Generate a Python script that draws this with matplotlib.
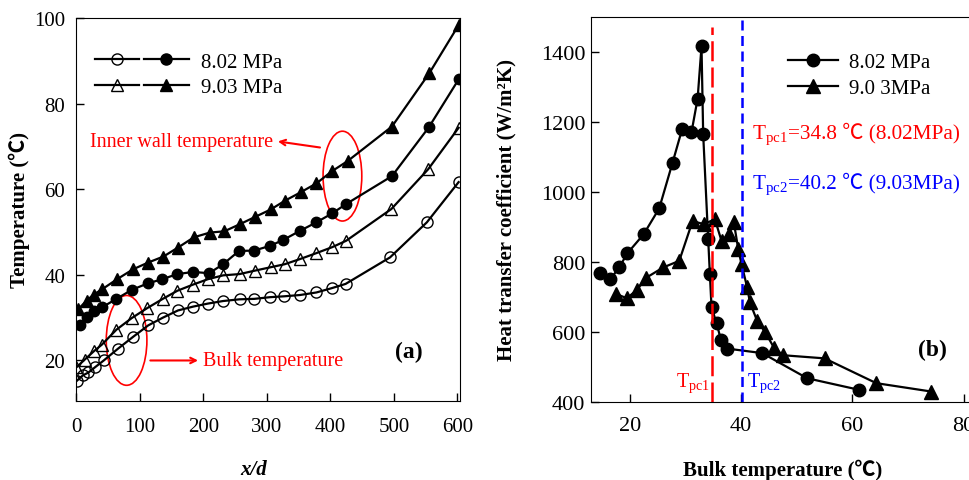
import matplotlib
matplotlib.use("Agg")
import matplotlib.pyplot as plt
from matplotlib.patches import Ellipse
from matplotlib.lines import Line2D
from matplotlib.legend_handler import HandlerTuple

plt.rcParams["font.family"] = ["Liberation Serif", "Noto Sans CJK SC", "DejaVu Sans"]
plt.rcParams["mathtext.fontset"] = "custom"
plt.rcParams["mathtext.rm"] = "Liberation Serif"
plt.rcParams["mathtext.it"] = "Liberation Serif:italic"
plt.rcParams["mathtext.bf"] = "Liberation Serif:bold"

# ---- (a) temperature along the tube, x/d ----
xd_bulk_802 = [1, 10, 19, 30, 43, 65, 89, 113, 136, 160, 184, 207, 231, 257, 280,
               305, 327, 352, 378, 402, 424, 494, 552, 602]
t_bulk_802 = [15.3, 16.5, 17.2, 18.5, 20.0, 22.7, 25.5, 28.2, 30.0, 31.7, 32.6, 33.3,
              33.9, 34.3, 34.4, 34.8, 35.0, 35.3, 35.9, 36.9, 37.9, 44.1, 52.3, 61.7]

xd_wall_802 = [5, 16, 28, 40, 63, 87, 112, 135, 159, 184, 209, 231, 256, 280, 305,
               326, 352, 378, 403, 424, 497, 555, 602]
t_wall_802 = [28.3, 30.1, 31.5, 32.4, 34.4, 36.5, 38.0, 39.0, 40.2, 40.7, 40.4, 42.5,
              45.6, 45.7, 46.8, 48.2, 50.3, 52.3, 54.4, 56.5, 63.1, 74.5, 85.7]

xd_bulk_903 = [0, 13, 27, 40, 63, 87, 111, 136, 159, 183, 207, 231, 257, 281, 306,
               328, 352, 378, 403, 425, 496, 554, 602]
t_bulk_903 = [18.4, 20.2, 22.1, 23.7, 27.2, 29.9, 32.2, 34.4, 36.3, 37.7, 39.0, 39.9,
              40.2, 41.0, 41.8, 42.5, 43.7, 45.1, 46.5, 48.0, 55.4, 64.7, 74.4]

xd_wall_903 = [3, 16, 27, 40, 64, 89, 113, 137, 160, 185, 210, 233, 258, 282, 306,
               329, 353, 378, 403, 427, 497, 556, 602]
t_wall_903 = [32.0, 34.0, 35.4, 36.6, 39.0, 41.3, 42.9, 44.3, 46.4, 48.8, 49.9, 50.2,
              51.9, 53.6, 55.3, 57.4, 59.3, 61.4, 64.3, 66.6, 74.7, 87.2, 98.4]

# ---- (b) heat transfer coefficient vs bulk temperature ----
tb_802 = [14.6, 16.5, 18.1, 19.6, 22.5, 25.3, 27.7, 29.4, 31.1, 32.2, 32.9, 33.2,
          34.1, 34.4, 34.7, 35.6, 36.4, 37.5, 43.8, 51.9, 61.2]
h_802 = [768, 750, 784, 825, 879, 953, 1084, 1179, 1171, 1267, 1417, 1165,
         865, 765, 670, 625, 576, 552, 539, 467, 434]

tb_903 = [17.6, 19.5, 21.3, 23.0, 26.0, 28.9, 31.3, 33.3, 35.3, 36.5, 37.8, 38.7,
          39.5, 40.1, 41.1, 41.6, 42.9, 44.3, 45.9, 47.5, 55.0, 64.3, 74.2]
h_903 = [708, 696, 720, 755, 784, 803, 917, 908, 922, 860, 879, 914,
         836, 793, 727, 684, 631, 600, 555, 533, 524, 453, 429]

t_pc1 = 34.8
t_pc2 = 40.2

fig = plt.figure(figsize=(9.7, 4.81), dpi=100)
ax1 = fig.add_axes([0.0788, 0.1649, 0.3953, 0.7950])
ax2 = fig.add_axes([0.609, 0.1628, 0.396, 0.7992])

lw = 1.6
common = dict(color="black", lw=lw, mec="black", mew=1.0)

ax1.plot(xd_bulk_802, t_bulk_802, marker="o", ms=8, mfc="none", **common)
ax1.plot(xd_bulk_903, t_bulk_903, marker="^", ms=8.5, mfc="none", **common)
ax1.plot(xd_wall_802, t_wall_802, marker="o", ms=7.5, mfc="black", **common)
ax1.plot(xd_wall_903, t_wall_903, marker="^", ms=8.5, mfc="black", **common)

ax1.set_xlim(0, 604)
ax1.set_ylim(10.6, 100)
ax1.set_xticks(range(0, 601, 100))
ax1.set_yticks(range(20, 101, 20))
ax1.tick_params(direction="in", length=6, width=1, labelsize=15)
ax1.tick_params(axis="x", pad=12)
ax1.tick_params(axis="y", pad=8)

ax1.set_xlabel("x/d", fontsize=15, fontweight="bold", style="italic")
ax1.xaxis.set_label_coords(0.462, -0.152)
ax1.set_ylabel("Temperature (℃)", fontsize=15, fontweight="bold")
ax1.yaxis.set_label_coords(-0.122, 0.5)

h_o = Line2D([], [], marker="o", ms=8, mfc="none", **common)
h_fo = Line2D([], [], marker="o", ms=8, mfc="black", **common)
h_t = Line2D([], [], marker="^", ms=8.5, mfc="none", **common)
h_ft = Line2D([], [], marker="^", ms=8.5, mfc="black", **common)
ax1.legend([(h_o, h_fo), (h_t, h_ft)], ["8.02 MPa", "9.03 MPa"],
           handler_map={tuple: HandlerTuple(ndivide=None, pad=0.25)},
           handlelength=4.5, handletextpad=0.6, labelspacing=0.3,
           frameon=False, fontsize=15, loc="upper left",
           bbox_to_anchor=(0.048, 0.912), borderpad=0, borderaxespad=0)

ax1.add_patch(Ellipse((419, 63.1), 61, 21, fill=False, ec="red", lw=1.2))
ax1.add_patch(Ellipse((79, 24.7), 64, 21, fill=False, ec="red", lw=1.2))
ax1.annotate("", xy=(313, 71.3), xytext=(388, 69.7),
             arrowprops=dict(arrowstyle="->", color="red", lw=1.5))
ax1.text(310, 71.2, "Inner wall temperature", color="red", fontsize=14.5,
         ha="right", va="center")
ax1.annotate("", xy=(196, 20), xytext=(112, 20),
             arrowprops=dict(arrowstyle="->", color="red", lw=1.5))
ax1.text(200, 20, "Bulk temperature", color="red", fontsize=14.5,
         ha="left", va="center")
ax1.text(524, 22, "(a)", fontsize=17, fontweight="bold", ha="center", va="center")

# ---- panel (b) ----
ax2.plot(tb_802, h_802, marker="o", ms=9, mfc="black", **common)
ax2.plot(tb_903, h_903, marker="^", ms=9.5, mfc="black", **common)
ax2.axvline(t_pc1, ymax=0.975, color="red", lw=1.8, dashes=(8, 2.5))
ax2.axvline(t_pc2, color="blue", lw=1.8, dashes=(4, 2.2))

ax2.set_xlim(13, 82)
ax2.set_ylim(400, 1500)
ax2.set_xticks([20, 40, 60, 80])
ax2.set_yticks(range(400, 1401, 200))
ax2.tick_params(direction="in", length=6, width=1, labelsize=16)
ax2.tick_params(axis="x", pad=10)
ax2.tick_params(axis="y", pad=4)

ax2.set_xlabel("Bulk temperature (℃)", fontsize=15, fontweight="bold")
ax2.xaxis.set_label_coords(0.4995, -0.149)
ax2.set_ylabel("Heat transfer coefficient (W/m²K)", fontsize=15, fontweight="bold")
ax2.yaxis.set_label_coords(-0.192, 0.5)

ax2.legend([Line2D([], [], marker="o", ms=9, mfc="black", **common),
            Line2D([], [], marker="^", ms=9.5, mfc="black", **common)],
           ["8.02 MPa", "9.0 3MPa"], handlelength=2.4, handletextpad=0.5,
           labelspacing=0.3, frameon=False, fontsize=15, loc="upper left",
           bbox_to_anchor=(0.514, 0.908), borderpad=0, borderaxespad=0)


def pc_label(ax, x, y, sub, rest, color, size):
    """Write T with a subscript, followed by plain text sharing its baseline."""
    head = ax.text(x, y, r"T$_{\mathrm{%s}}$" % sub, color=color, fontsize=size,
                   ha="left", va="baseline")
    if rest:
        fig.canvas.draw()
        w = head.get_window_extent().width
        ax.annotate(rest, xy=(x, y), xycoords="data", xytext=(w, 0),
                    textcoords="offset pixels", color=color, fontsize=size,
                    ha="left", va="baseline")


pc_label(ax2, 42.05, 1155, "pc1", "=%.1f ℃ (8.02MPa)" % t_pc1, "red", 15.3)
pc_label(ax2, 42.05, 1012, "pc2", "=%.1f ℃ (9.03MPa)" % t_pc2, "blue", 15.3)
pc_label(ax2, 28.4, 446, "pc1", "", "red", 14.5)
pc_label(ax2, 41.0, 446, "pc2", "", "blue", 14.5)
ax2.text(74.4, 550, "(b)", fontsize=17, fontweight="bold", ha="center", va="center")

fig.savefig("out.png", dpi=100)
